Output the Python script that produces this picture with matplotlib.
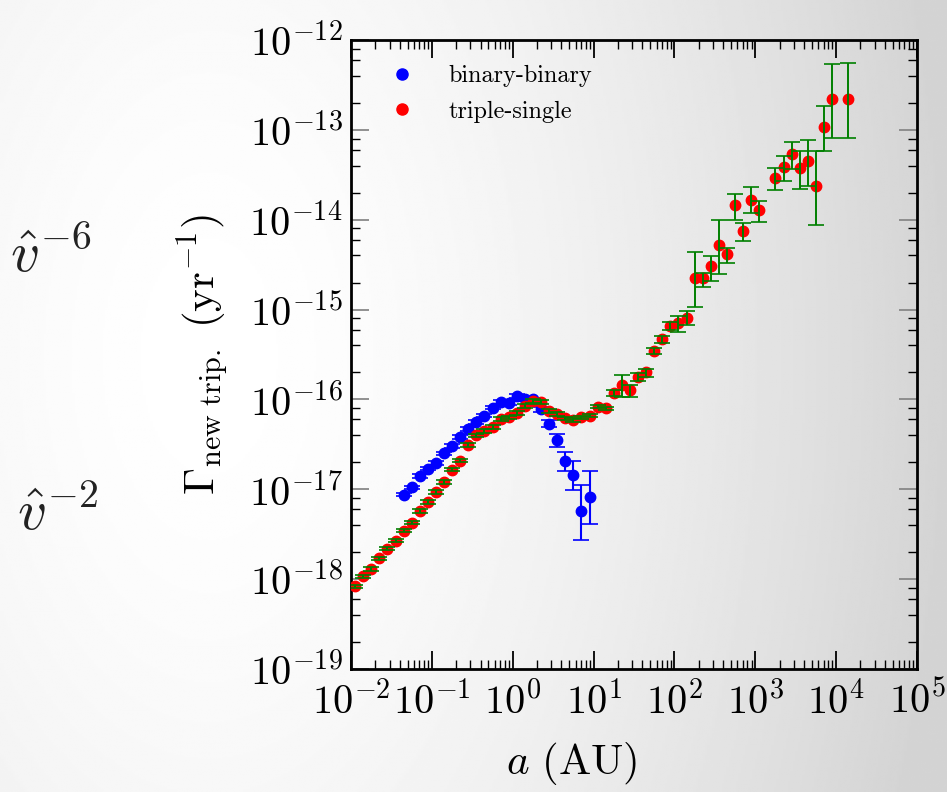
import numpy as np
import matplotlib
matplotlib.use('Agg')
import matplotlib.pyplot as plt
from matplotlib.lines import Line2D
from matplotlib.ticker import LogLocator, FuncFormatter, NullFormatter

# values, as log10(a / AU) and log10(rate / yr^-1)
blue_log_a = [-1.35, -1.25, -1.15, -1.05, -0.95, -0.85, -0.75, -0.65, -0.55, -0.45,
              -0.35, -0.25, -0.15, -0.05, 0.05, 0.15, 0.25, 0.35, 0.45, 0.55,
              0.65, 0.75, 0.85, 0.95]
blue_log_g = [-17.06, -16.98, -16.85, -16.77, -16.71, -16.60, -16.52, -16.42, -16.33, -16.25,
              -16.18, -16.09, -16.03, -16.04, -15.96, -16.00, -16.00, -16.11, -16.27, -16.45,
              -16.68, -16.84, -17.24, -17.09]
blue_err_up = [0.02, 0.02, 0.02, 0.02, 0.02, 0.02, 0.02, 0.02, 0.02, 0.02,
               0.02, 0.02, 0.02, 0.02, 0.02, 0.02, 0.02, 0.03, 0.04, 0.06,
               0.10, 0.16, 0.29, 0.29]
blue_err_dn = [0.02, 0.02, 0.02, 0.02, 0.02, 0.02, 0.02, 0.02, 0.02, 0.02,
               0.02, 0.02, 0.02, 0.02, 0.02, 0.02, 0.02, 0.03, 0.04, 0.08,
               0.12, 0.17, 0.32, 0.30]

red_log_a = [-1.95, -1.85, -1.75, -1.65, -1.55, -1.45, -1.35, -1.25, -1.15, -1.05,
             -0.95, -0.85, -0.75, -0.65, -0.55, -0.45, -0.35, -0.25, -0.15, -0.05,
             0.05, 0.15, 0.25, 0.35, 0.45, 0.55, 0.65, 0.75, 0.85, 0.95,
             1.05, 1.15, 1.25, 1.35, 1.45, 1.55, 1.65, 1.75, 1.85, 1.95,
             2.05, 2.15, 2.25, 2.35, 2.45, 2.55, 2.65, 2.75, 2.85, 2.95,
             3.05, 3.25, 3.35, 3.45, 3.55, 3.65, 3.75, 3.85, 3.95, 4.15]
red_log_g = [-18.08, -17.97, -17.89, -17.77, -17.66, -17.57, -17.46, -17.37, -17.24, -17.14,
             -17.03, -16.92, -16.78, -16.68, -16.51, -16.40, -16.35, -16.31, -16.22, -16.20,
             -16.15, -16.07, -16.02, -16.03, -16.13, -16.16, -16.21, -16.23, -16.20, -16.18,
             -16.08, -16.10, -15.93, -15.84, -15.90, -15.75, -15.70, -15.46, -15.33, -15.18,
             -15.15, -15.09, -14.65, -14.65, -14.52, -14.28, -14.38, -13.84, -14.13, -13.78,
             -13.89, -13.54, -13.41, -13.27, -13.42, -13.35, -13.63, -12.97, -12.66, -12.66]
red_err_up = [0.02, 0.02, 0.02, 0.02, 0.02, 0.02, 0.02, 0.02, 0.02, 0.02,
              0.02, 0.02, 0.02, 0.02, 0.02, 0.02, 0.02, 0.02, 0.02, 0.02,
              0.02, 0.02, 0.02, 0.02, 0.02, 0.02, 0.02, 0.02, 0.02, 0.02,
              0.02, 0.02, 0.03, 0.11, 0.06, 0.04, 0.04, 0.03, 0.04, 0.04,
              0.08, 0.07, 0.29, 0.06, 0.12, 0.28, 0.07, 0.13, 0.09, 0.14,
              0.10, 0.12, 0.12, 0.13, 0.18, 0.24, 0.39, 0.23, 0.39, 0.40]
red_err_dn = [0.02, 0.02, 0.02, 0.02, 0.02, 0.02, 0.02, 0.02, 0.02, 0.02,
              0.02, 0.02, 0.02, 0.02, 0.02, 0.02, 0.02, 0.02, 0.02, 0.02,
              0.02, 0.02, 0.02, 0.02, 0.02, 0.02, 0.02, 0.02, 0.02, 0.02,
              0.02, 0.02, 0.03, 0.13, 0.07, 0.04, 0.05, 0.03, 0.04, 0.05,
              0.10, 0.08, 0.32, 0.10, 0.16, 0.32, 0.10, 0.16, 0.11, 0.15,
              0.13, 0.13, 0.16, 0.17, 0.24, 0.27, 0.43, 0.27, 0.43, 0.43]

legend_labels = ['binary-binary', 'triple-single']
side_labels = [r'$\hat{v}^{-6}$', r'$\hat{v}^{-2}$']


def to_points(log_a, log_g, up, dn):
    """Turn log values into data values plus asymmetric error bars."""
    log_a = np.array(log_a)
    log_g = np.array(log_g)
    x = 10 ** log_a
    y = 10 ** log_g
    lo = y - 10 ** (log_g - np.array(dn))
    hi = 10 ** (log_g + np.array(up)) - y
    return x, y, [lo, hi]


plt.rcParams['mathtext.fontset'] = 'cm'
plt.rcParams['font.family'] = ['cmr10', 'DejaVu Serif']
plt.rcParams['axes.formatter.use_mathtext'] = True

fig = plt.figure(figsize=(9.47, 7.92), dpi=100)

# slide-like grey gradient behind everything (white on the left, grey on the right)
bg = fig.add_axes([0, 0, 1, 1], zorder=-10)
gx, gy = np.meshgrid(np.linspace(0, 1, 400), np.linspace(0, 1, 400))
r = np.sqrt(((gx - 0.22) / 0.78) ** 2 + ((gy - 0.55) / 1.6) ** 2)
shade = 1 - 0.17 * np.clip(r, 0, 1) ** 1.6
bg.imshow(shade, cmap='gray', vmin=0, vmax=1, extent=[0, 1, 0, 1],
          aspect='auto', origin='lower', interpolation='bilinear')
bg.axis('off')

ax = fig.add_axes([0.3707, 0.1553, 0.5976, 0.7942])
ax.set_facecolor('none')
ax.set_xscale('log')
ax.set_yscale('log')
ax.set_xlim(1e-2, 1e5)
ax.set_ylim(1e-19, 1e-12)

bx, by, berr = to_points(blue_log_a, blue_log_g, blue_err_up, blue_err_dn)
rx, ry, rerr = to_points(red_log_a, red_log_g, red_err_up, red_err_dn)

ax.errorbar(bx, by, yerr=berr, fmt='o', color='blue', mec='blue', ms=7.5,
            elinewidth=1.5, capsize=6, capthick=1.2, zorder=2)
ax.plot(rx, ry, 'o', color='red', mec='red', ms=7.5, zorder=3)
ax.errorbar(rx, ry, yerr=rerr, fmt='none', ecolor='green', elinewidth=1.4,
            capsize=6, capthick=1.2, zorder=4)

# ticks
ax.xaxis.set_major_locator(LogLocator(base=10, numticks=12))
ax.xaxis.set_minor_locator(LogLocator(base=10, subs=np.arange(2, 10), numticks=100))
ax.yaxis.set_major_locator(LogLocator(base=10, numticks=12))
ax.yaxis.set_minor_locator(LogLocator(base=10, subs=(2, 4, 6, 8), numticks=100))
fmt = FuncFormatter(lambda v, p: r'$10^{%d}$' % int(round(np.log10(v))))
ax.xaxis.set_major_formatter(fmt)
ax.yaxis.set_major_formatter(fmt)
ax.xaxis.set_minor_formatter(NullFormatter())
ax.yaxis.set_minor_formatter(NullFormatter())

ax.tick_params(which='both', direction='in', top=True, right=True)
ax.tick_params(which='major', length=13, width=1.3, labelsize=29)
ax.tick_params(which='minor', length=6.5, width=1.0, color='black')
ax.tick_params(axis='y', which='major', color='#888888', pad=6)
ax.tick_params(axis='x', which='major', pad=9)
for s in ax.spines.values():
    s.set_linewidth(2)

ax.set_xlabel(r'$a\ (\mathrm{AU})$', fontsize=31)
ax.xaxis.set_label_coords(0.389, -0.113)
ax.xaxis.label.set_va('top')
ax.set_ylabel(r'$\Gamma_{\mathrm{new\ trip.}}\ (\mathrm{yr}^{-1})$', fontsize=31)
ax.yaxis.set_label_coords(-0.21, 0.5)

handles = [Line2D([], [], marker='o', ls='none', color='blue', mec='blue', ms=8),
           Line2D([], [], marker='o', ls='none', color='red', mec='red', ms=8)]
ax.legend(handles, legend_labels, loc='upper left', bbox_to_anchor=(0.069, 0.96),
          frameon=False, fontsize=17.5, handlelength=1.0, handletextpad=1.4,
          borderaxespad=0, borderpad=0, labelspacing=0.55)

fig.text(10 / 947, 1 - 272 / 792, side_labels[0], fontsize=41, color='#222222',
         ha='left', va='baseline')
fig.text(17 / 947, 1 - 530 / 792, side_labels[1], fontsize=41, color='#222222',
         ha='left', va='baseline')

fig.savefig('out.png', dpi=100)
